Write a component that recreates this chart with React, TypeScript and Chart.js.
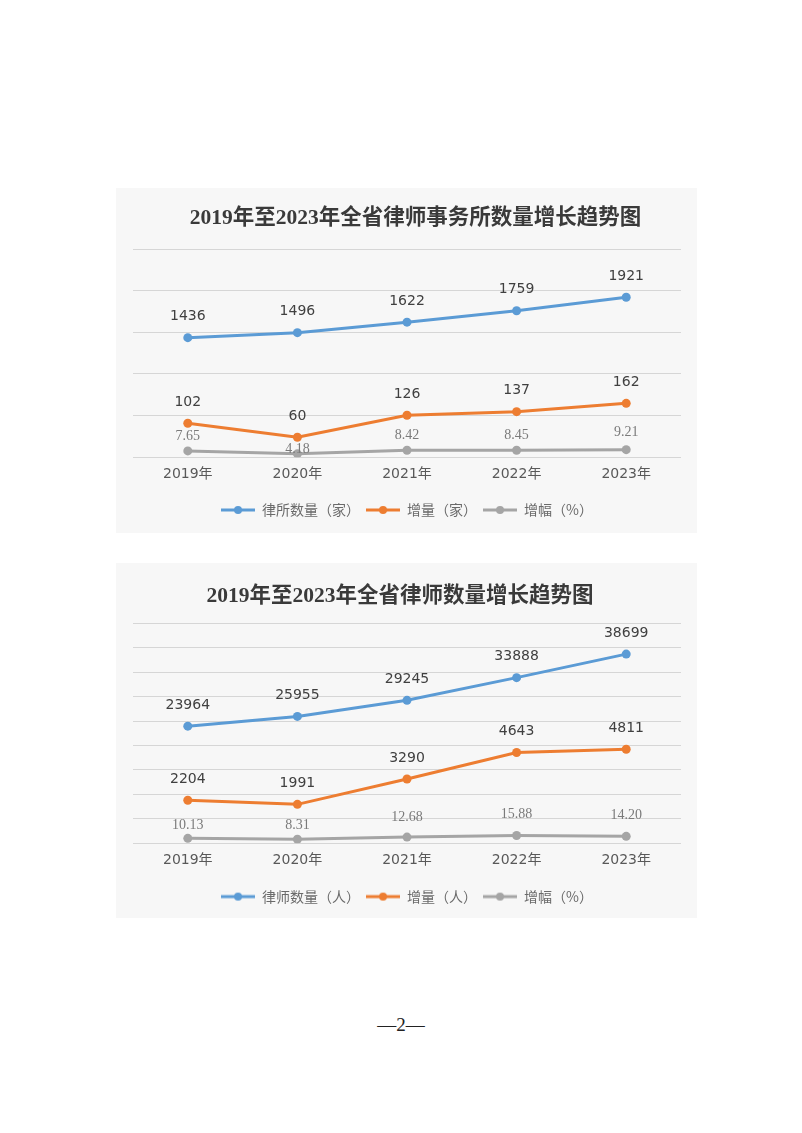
import React, { useEffect, useRef } from 'react';
import { Chart, registerables } from 'chart.js';

Chart.register(...registerables);

// ---- data ----
const years = ['2019年', '2020年', '2021年', '2022年', '2023年'];

const firmCount = [1436, 1496, 1622, 1759, 1921];
const firmIncrease = [102, 60, 126, 137, 162];
const firmGrowth = [7.65, 4.18, 8.42, 8.45, 9.21];

const lawyerCount = [23964, 25955, 29245, 33888, 38699];
const lawyerIncrease = [2204, 1991, 3290, 4643, 4811];
const lawyerGrowth = [10.13, 8.31, 12.68, 15.88, 14.2];

const firmTitle = '2019年至2023年全省律师事务所数量增长趋势图';
const lawyerTitle = '2019年至2023年全省律师数量增长趋势图';
const firmSeriesNames = ['律所数量（家）', '增量（家）', '增幅（%）'];
const lawyerSeriesNames = ['律师数量（人）', '增量（人）', '增幅（%）'];

// label placement (style, not data)
const firmGrowthLabelLift = [15, 4, 15, 15, 17];
const lawyerGrowthLabelLift = [13, 14, 20, 21, 21];

const BLUE = '#5b9bd5';
const ORANGE = '#ed7d31';
const GRAY = '#a5a5a5';
const GRID = '#d6d6d6';

type Spec = {
  title: string;
  titleX: number;
  titleY: number;
  names: string[];
  count: number[];
  increase: number[];
  growth: number[];
  growthLift: number[];
  height: number;
  padTop: number;
  padBottom: number;
  extra: number;
  max: number;
  step: number;
  max2: number;
  max3: number;
};

function legendIcon(color: string): HTMLCanvasElement {
  const c = document.createElement('canvas');
  c.width = 34;
  c.height = 10;
  const g = c.getContext('2d')!;
  g.strokeStyle = color;
  g.lineWidth = 3;
  g.beginPath();
  g.moveTo(0, 5);
  g.lineTo(34, 5);
  g.stroke();
  g.fillStyle = color;
  g.beginPath();
  g.arc(17, 5, 4, 0, Math.PI * 2);
  g.fill();
  return c;
}

function TrendChart({ spec }: { spec: Spec }) {
  const ref = useRef<HTMLCanvasElement | null>(null);

  useEffect(() => {
    if (!ref.current) return;
    const icons = [legendIcon(BLUE), legendIcon(ORANGE), legendIcon(GRAY)];

    const titlePlugin = {
      id: 'pageTitle',
      afterDraw(chart: any) {
        const ctx = chart.ctx;
        ctx.save();
        ctx.font = "bold 21.5px 'Liberation Serif', 'Noto Sans CJK SC'";
        ctx.fillStyle = '#3a3a3a';
        ctx.textAlign = 'center';
        ctx.textBaseline = 'middle';
        ctx.fillText(spec.title, spec.titleX, spec.titleY);
        ctx.restore();
      },
    };

    const labelStyles = [
      { font: "14px 'DejaVu Sans', sans-serif", color: '#404040', lift: [21, 21, 21, 21, 21], fmt: (v: number) => String(v) },
      { font: "14px 'DejaVu Sans', sans-serif", color: '#404040', lift: [21, 21, 21, 21, 21], fmt: (v: number) => String(v) },
      { font: "14px 'Liberation Serif', serif", color: '#7a7a7a', lift: spec.growthLift, fmt: (v: number) => v.toFixed(2) },
    ];

    const valuePlugin = {
      id: 'valueLabels',
      afterDatasetsDraw(chart: any) {
        const ctx = chart.ctx;
        chart.data.datasets.forEach((ds: any, i: number) => {
          const meta = chart.getDatasetMeta(i);
          const st = labelStyles[i];
          meta.data.forEach((pt: any, j: number) => {
            ctx.save();
            ctx.font = st.font;
            ctx.fillStyle = st.color;
            ctx.textAlign = 'center';
            ctx.textBaseline = 'middle';
            ctx.fillText(st.fmt(ds.data[j]), pt.x, pt.y - st.lift[j]);
            ctx.restore();
          });
        });
      },
    };

    const mk = (label: string, data: number[], color: string, axis: string) => ({
      label,
      data,
      borderColor: color,
      backgroundColor: color,
      pointBackgroundColor: color,
      pointBorderColor: color,
      pointBorderWidth: 0,
      pointRadius: 4.5,
      pointHoverRadius: 4.5,
      borderWidth: 3,
      tension: 0,
      yAxisID: axis,
    });

    const chart = new Chart(ref.current, {
      type: 'line',
      data: {
        labels: years,
        datasets: [
          mk(spec.names[0], spec.count, BLUE, 'y'),
          mk(spec.names[1], spec.increase, ORANGE, 'y2'),
          mk(spec.names[2], spec.growth, GRAY, 'y3'),
        ],
      },
      options: {
        responsive: false,
        animation: false,
        events: [],
        layout: { padding: { left: 17, right: 16, top: spec.padTop, bottom: spec.padBottom } },
        scales: {
          x: {
            offset: true,
            grid: { display: false, drawTicks: false },
            border: { display: false },
            ticks: {
              padding: 9,
              color: '#595959',
              font: { family: "'DejaVu Sans', 'Noto Sans CJK SC'", size: 14 },
            },
            afterFit: (s: any) => {
              s.height += spec.extra;
            },
          },
          y: {
            min: 0,
            max: spec.max,
            ticks: { stepSize: spec.step, display: false },
            grid: { color: GRID, drawTicks: false, lineWidth: 1 },
            border: { display: false },
          },
          y2: { display: false, min: 0, max: spec.max2 },
          y3: { display: false, min: 0, max: spec.max3 },
        },
        plugins: {
          title: { display: false },
          tooltip: { enabled: false },
          legend: {
            position: 'bottom',
            labels: {
              usePointStyle: true,
              pointStyleWidth: 34,
              padding: 6,
              color: '#6a6a6a',
              font: { family: "'Noto Sans CJK SC'", size: 14 },
              generateLabels: (c: any) =>
                Chart.defaults.plugins.legend.labels
                  .generateLabels(c)
                  .map((l: any, i: number) => ({ ...l, pointStyle: icons[i] })),
            },
          },
        },
      } as any,
      plugins: [titlePlugin, valuePlugin],
    });
    return () => chart.destroy();
  }, [spec]);

  return <canvas ref={ref} width={581} height={spec.height} style={{ display: 'block' }} />;
}

const firmSpec: Spec = {
  title: firmTitle,
  titleX: 299.5,
  titleY: 30.3,
  names: firmSeriesNames,
  count: firmCount,
  increase: firmIncrease,
  growth: firmGrowth,
  growthLift: firmGrowthLabelLift,
  height: 345,
  padTop: 61,
  padBottom: 6,
  extra: 4.9,
  max: 2500,
  step: 500,
  max2: 625,
  max3: 250,
};

const lawyerSpec: Spec = {
  title: lawyerTitle,
  titleX: 284,
  titleY: 33.7,
  names: lawyerSeriesNames,
  count: lawyerCount,
  increase: lawyerIncrease,
  growth: lawyerGrowth,
  growthLift: lawyerGrowthLabelLift,
  height: 355,
  padTop: 60.3,
  padBottom: 4.4,
  extra: 5.5,
  max: 45000,
  step: 5000,
  max2: 11250,
  max3: 450,
};

export default function App() {
  return (
    <div style={{ position: 'relative', width: 786, height: 1100 }}>
      <div
        style={{
          position: 'absolute',
          left: -8,
          top: -8,
          width: 802,
          height: 1133,
          boxSizing: 'border-box',
          border: '1px solid #b0b0b0',
        }}
      />
      <div style={{ position: 'absolute', left: 108, top: 180, width: 581, height: 345, background: '#f7f7f7' }}>
        <TrendChart spec={firmSpec} />
      </div>
      <div style={{ position: 'absolute', left: 108, top: 555, width: 581, height: 355, background: '#f7f7f7' }}>
        <TrendChart spec={lawyerSpec} />
      </div>
      <div
        style={{
          position: 'absolute',
          left: 0,
          top: 1006,
          width: 786,
          textAlign: 'center',
          fontFamily: "'Liberation Serif', serif",
          fontSize: 19,
          lineHeight: '22px',
          color: '#222',
        }}
      >
        —2—
      </div>
    </div>
  );
}
